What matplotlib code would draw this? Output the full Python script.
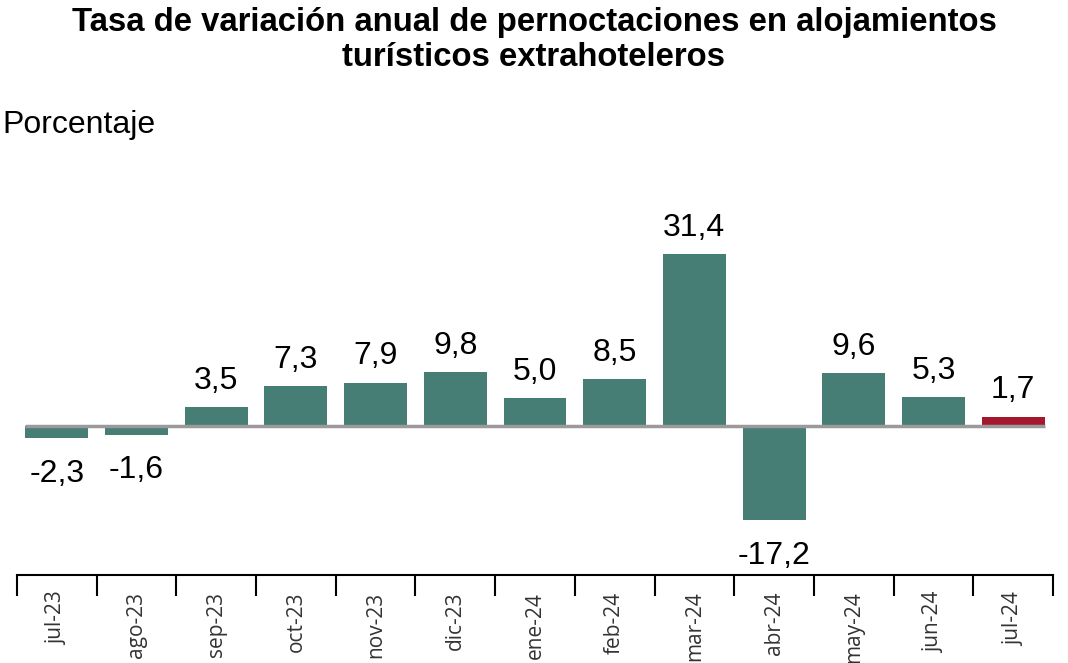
import matplotlib
matplotlib.use("Agg")
import matplotlib.pyplot as plt
import numpy as np

months = ["jul-23", "ago-23", "sep-23", "oct-23", "nov-23", "dic-23", "ene-24",
          "feb-24", "mar-24", "abr-24", "may-24", "jun-24", "jul-24"]
values = [-2.3, -1.6, 3.5, 7.3, 7.9, 9.8, 5.0, 8.5, 31.4, -17.2, 9.6, 5.3, 1.7]

TEAL = "#467D74"
RED = "#A3182F"

W, H = 1068, 663
fig = plt.figure(figsize=(W / 100, H / 100), dpi=100)
ax = fig.add_axes([17 / W, (H - 575) / H, (1053 - 17) / W, (575 - 234) / H])

x = np.arange(len(months))
colors = [TEAL] * (len(months) - 1) + [RED]
ax.bar(x, values, width=0.79, color=colors, zorder=2)
ax.hlines(0, -0.4, len(months) - 0.6, color="#9a9a9a", lw=2.5, zorder=3)

for xi, v in zip(x, values):
    lab = f"{v:.1f}".replace(".", ",")
    if v >= 0:
        ax.annotate(lab, (xi, v), xytext=(0, 8), textcoords="offset points",
                    ha="center", va="bottom", fontsize=23, family="Liberation Sans")
    else:
        ax.annotate(lab, (xi, v), xytext=(0, -15), textcoords="offset points",
                    ha="center", va="top", fontsize=23, family="Liberation Sans")

ax.set_xlim(-0.5, len(months) - 0.5)
ax.set_ylim(-27.2, 35)
for s in ["top", "right", "left"]:
    ax.spines[s].set_visible(False)
ax.spines["bottom"].set_linewidth(1.5)
ax.set_yticks([])
ax.set_xticks(x)
ax.set_xticklabels(months, rotation=90, fontsize=15, family="Open Sans", color="#333333")
ax.tick_params(axis="x", which="major", length=0, pad=12)
ax.set_xticks(np.arange(-0.5, len(months)), minor=True)
ax.tick_params(axis="x", which="minor", length=15, width=1.5)

fig.text(0.5, 1 - 40 / H,
         "Tasa de variación anual de pernoctaciones en alojamientos\nturísticos extrahoteleros",
         ha="center", va="center", fontsize=23.7, fontweight="bold",
         family="Liberation Sans", linespacing=1.15)
fig.text(2 / W, 1 - 125 / H, "Porcentaje", ha="left", va="center",
         fontsize=23, family="Liberation Sans")

fig.savefig("out.png", dpi=100)
